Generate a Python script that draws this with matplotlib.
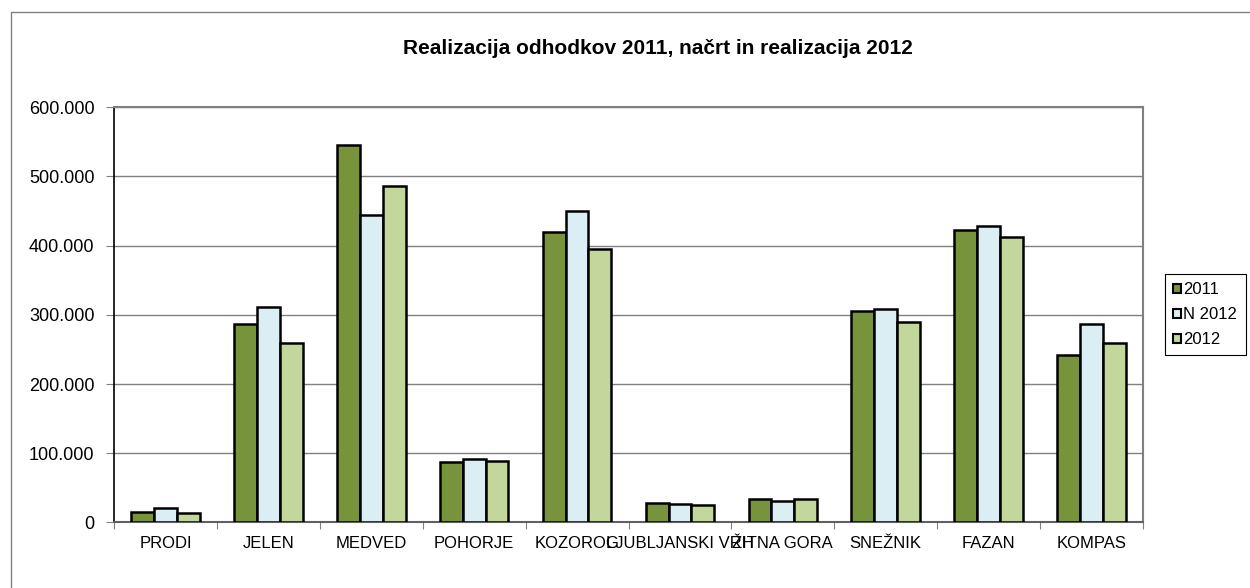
import matplotlib
matplotlib.use("Agg")
import matplotlib.pyplot as plt
import numpy as np
from matplotlib.patches import Rectangle, Patch
from matplotlib.ticker import FuncFormatter, FixedLocator, NullFormatter

plt.rcParams['font.family'] = ['Liberation Sans', 'DejaVu Sans']

categories = ["PRODI", "JELEN", "MEDVED", "POHORJE", "KOZOROG",
              "LJUBLJANSKI VRH", "ŽITNA GORA", "SNEŽNIK", "FAZAN", "KOMPAS"]
series_names = ["2011", "N 2012", "2012"]
real_2011 = [15200, 287000, 545000, 87000, 419500, 27700, 34400, 305400, 422400, 242300]
plan_2012 = [21400, 311600, 444000, 92100, 449400, 26500, 31000, 308300, 428200, 286600]
real_2012 = [14200, 258700, 486000, 89200, 394500, 25500, 33500, 289500, 412300, 259600]
colors = ["#77933C", "#DBEEF4", "#C3D69B"]

fig = plt.figure(figsize=(12.5, 5.88), dpi=100)
ax = fig.add_axes([0.0912, 0.1114, 0.8232, 0.7066])

# outer chart frame (right/bottom edges fall outside the image)
fig.patches.append(Rectangle((11 / 1250, -0.05), 1.2, 1 - 12 / 588 + 0.05,
                             transform=fig.transFigure, fill=False,
                             edgecolor="#808080", linewidth=1.0))

x = np.arange(len(categories))
w = 1 / 4.5
for i, (vals, col) in enumerate(zip([real_2011, plan_2012, real_2012], colors)):
    ax.bar(x + (i - 1) * w, vals, width=w, color=col, edgecolor="black",
           linewidth=1.8, zorder=3)

ax.set_xlim(-0.5, len(categories) - 0.5)
ax.set_ylim(0, 600000)
ax.set_yticks(np.arange(0, 600001, 100000))
ax.yaxis.set_major_formatter(FuncFormatter(lambda v, p: f"{int(v):,}".replace(",", ".")))
ax.yaxis.grid(True, color="#808080", linewidth=1.0, zorder=0)
ax.tick_params(axis="y", labelsize=13, length=6, color="#808080", pad=8)

ax.xaxis.set_major_locator(FixedLocator(np.arange(-0.5, len(categories), 1)))
ax.xaxis.set_major_formatter(NullFormatter())
ax.xaxis.set_minor_locator(FixedLocator(x))
ax.set_xticklabels(categories, minor=True)
ax.tick_params(axis="x", which="major", length=5, color="#808080")
ax.tick_params(axis="x", which="minor", length=0, labelsize=12, pad=10)

for side in ["top", "right"]:
    ax.spines[side].set_color("#808080")
    ax.spines[side].set_linewidth(1.5)
ax.spines["left"].set_color("black")
ax.spines["left"].set_linewidth(1.2)
ax.spines["bottom"].set_color("#606060")
ax.spines["bottom"].set_linewidth(1.5)

fig.text(0.5266, 0.918, "Realizacija odhodkov 2011, načrt in realizacija 2012",
         ha="center", va="center", fontsize=15, fontweight="bold")

handles = [Patch(facecolor=c, edgecolor="black", linewidth=1.5) for c in colors]
leg = fig.legend(handles, series_names, loc="center left",
                 bbox_to_anchor=(1165 / 1250, 1 - 314.5 / 588), fontsize=12,
                 handlelength=0.45, handleheight=0.45, handletextpad=0.15,
                 labelspacing=0.6, borderpad=0.5, borderaxespad=0,
                 fancybox=False, framealpha=1)
leg.get_frame().set_edgecolor("black")
leg.get_frame().set_linewidth(0.8)

fig.savefig("out.png", dpi=100)
